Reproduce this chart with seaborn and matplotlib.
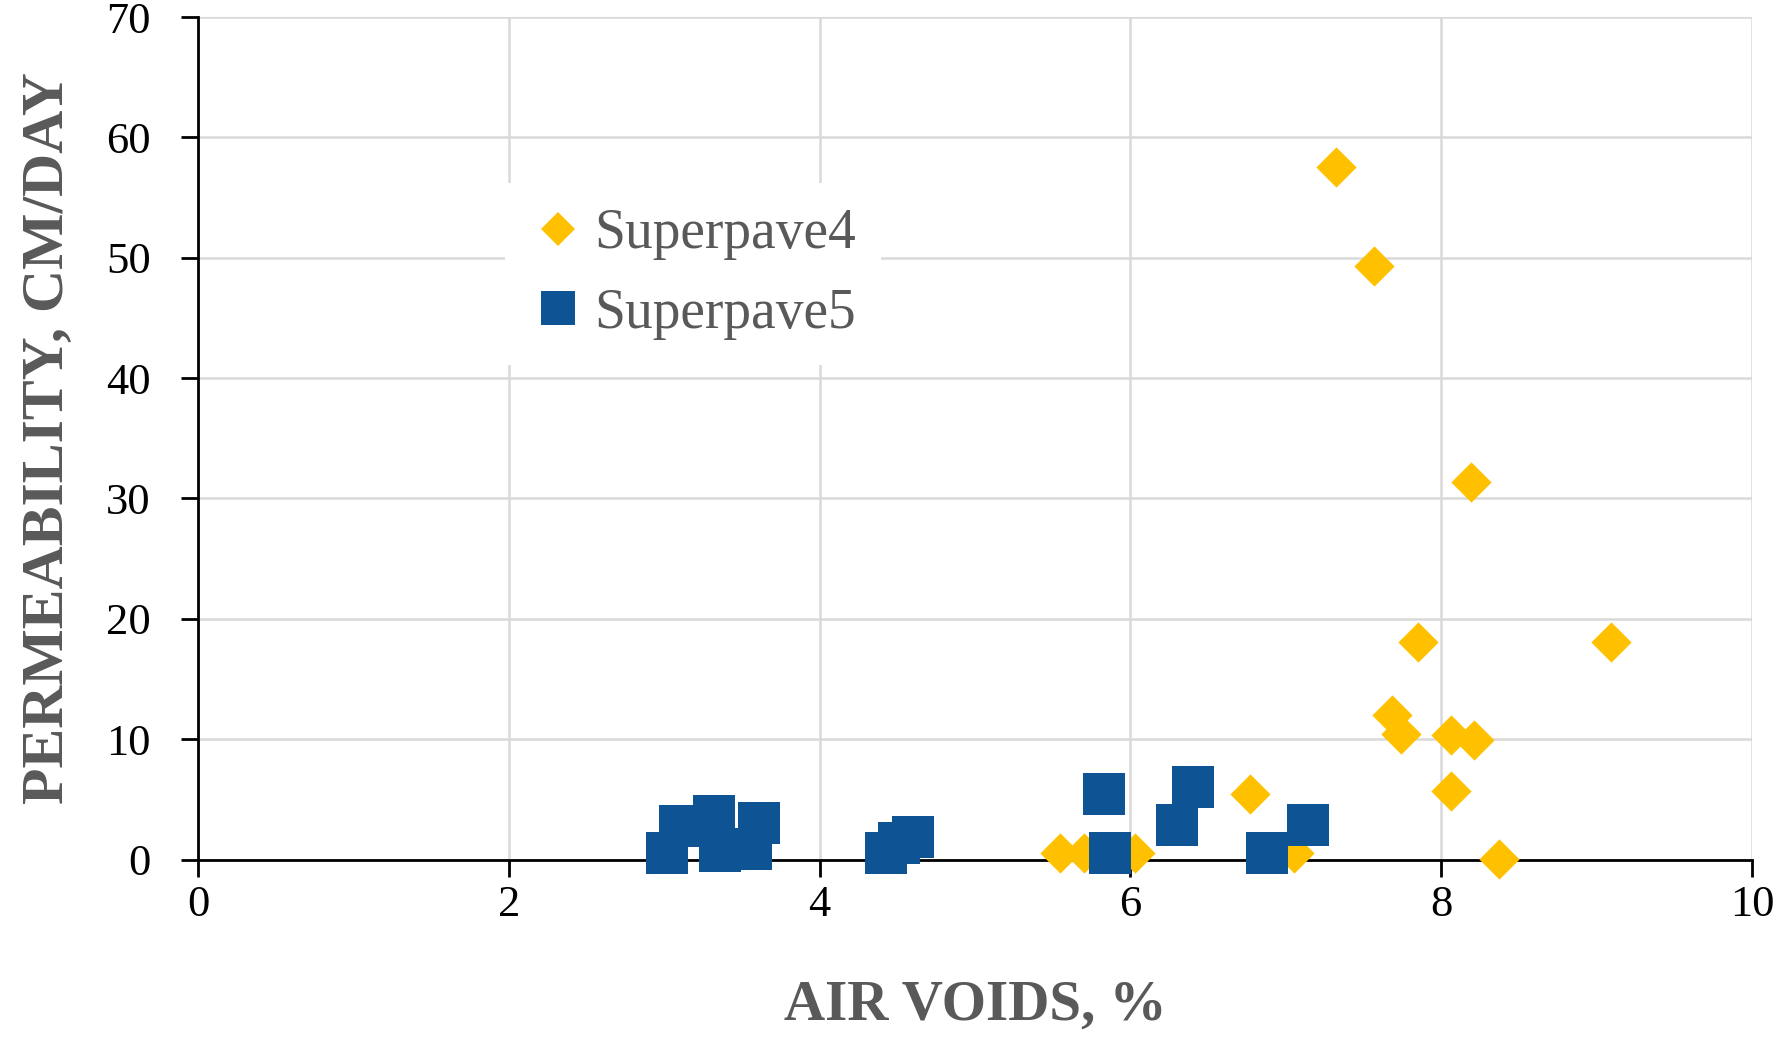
import matplotlib
matplotlib.use("Agg")
import matplotlib.pyplot as plt
import seaborn as sns
import pandas as pd
from matplotlib.lines import Line2D

# ---- data ----
sp4_air = [7.32, 7.57, 8.19, 7.85, 9.09, 7.68, 7.74, 8.06, 8.21, 8.06, 8.37,
           6.77, 5.55, 5.70, 6.03, 7.05]
sp4_perm = [57.5, 49.3, 31.4, 18.1, 18.1, 12.0, 10.4, 10.35, 9.9, 5.7, 0.05,
            5.47, 0.52, 0.52, 0.52, 0.55]

sp5_air = [3.02, 3.10, 3.32, 3.36, 3.61, 3.56, 4.43, 4.51, 4.60,
           5.83, 5.87, 6.30, 6.40, 6.88, 7.14]
sp5_perm = [0.57, 2.8, 3.65, 0.7, 3.0, 0.9, 0.52, 1.4, 1.9,
            5.43, 0.52, 2.86, 6.07, 0.51, 2.86]

x_ticks = [0, 2, 4, 6, 8, 10]
y_ticks = [0, 10, 20, 30, 40, 50, 60, 70]
series_names = ["Superpave4", "Superpave5"]
colors = {"Superpave4": "#FFC000", "Superpave5": "#0E5394"}

df4 = pd.DataFrame({"air": sp4_air, "perm": sp4_perm, "mix": series_names[0]})
df5 = pd.DataFrame({"air": sp5_air, "perm": sp5_perm, "mix": series_names[1]})

sns.set_theme(style="white")
plt.rcParams["font.family"] = ["Liberation Serif", "DejaVu Serif"]

fig = plt.figure(figsize=(17.9, 10.39), dpi=100)
ax = fig.add_axes([0.1106, 0.1727, 0.8682, 0.8109])

sns.scatterplot(data=df4, x="air", y="perm", marker="D", s=420,
                color=colors["Superpave4"], linewidth=0, ax=ax, clip_on=False,
                zorder=3, legend=False)
sns.scatterplot(data=df5, x="air", y="perm", marker="s", s=880,
                color=colors["Superpave5"], linewidth=0, ax=ax, clip_on=False,
                zorder=4, legend=False)

ax.set_xlim(0, 10)
ax.set_ylim(0, 70)
ax.set_xticks(x_ticks)
ax.set_yticks(y_ticks)
ax.set_xticklabels([str(t) for t in x_ticks])
ax.set_yticklabels([str(t) for t in y_ticks])

ax.grid(True, color="#D9D9D9", linewidth=1.8, zorder=0)
ax.set_axisbelow(True)
for s in ["top", "right"]:
    ax.spines[s].set_visible(False)
for s in ["left", "bottom"]:
    ax.spines[s].set_color("black")
    ax.spines[s].set_linewidth(2.0)

ax.tick_params(axis="both", which="major", direction="out", length=12,
               width=2.0, color="black", labelsize=32, labelcolor="black")
ax.tick_params(axis="y", pad=22)
ax.tick_params(axis="x", pad=6, bottom=True)
ax.tick_params(axis="y", left=True)

ax.set_xlabel("AIR VOIDS, %", fontsize=41, fontweight="bold", color="#595959",
              labelpad=40)
ax.set_ylabel("PERMEABILITY, CM/DAY", fontsize=43, fontweight="bold",
              color="#595959", labelpad=22)

handles = [
    Line2D([0], [0], marker="D", linestyle="none", markersize=17,
           markerfacecolor=colors["Superpave4"], markeredgewidth=0),
    Line2D([0], [0], marker="s", linestyle="none", markersize=24,
           markerfacecolor=colors["Superpave5"], markeredgewidth=0),
]
leg = ax.legend(handles, series_names, loc="upper left",
                bbox_to_anchor=(0.1976, 0.803), frameon=True, fancybox=False,
                facecolor="white", edgecolor="none", framealpha=1,
                fontsize=40, labelcolor="#595959", handletextpad=0.15,
                handlelength=1.0, borderpad=0.45, labelspacing=0.5,
                borderaxespad=0)
leg.set_zorder(5)

fig.savefig("out.png", dpi=100)
